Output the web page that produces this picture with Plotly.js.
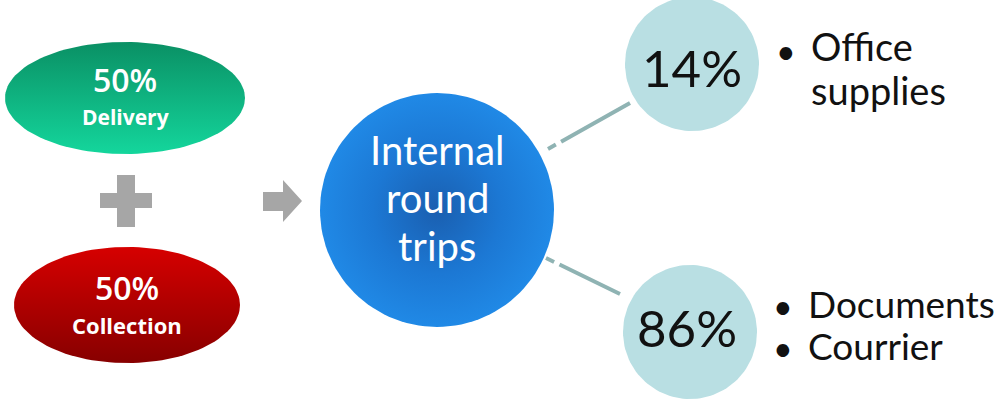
<!DOCTYPE html>
<html><head><meta charset="utf-8">
<script src="https://cdn.plot.ly/plotly-3.0.1.min.js"></script>
<style>html,body{margin:0;padding:0;background:#fff}#chart{width:1005px;height:405px}</style>
</head><body><div id="chart"></div>
<script>
// ---- data ----
const sourceShare = [50, 50];
const sourceLabels = ['Delivery', 'Collection'];
const centerLabel = ['Internal', 'round', 'trips'];
const splitShare = [14, 86];
const splitItems = [['Office supplies'], ['Documents', 'Courrier']];

// ---- geometry helpers ----
function ellipse(cx, cy, rx, ry) {
  const x = [], y = [];
  for (let i = 0; i <= 120; i++) {
    const t = 2 * Math.PI * i / 120;
    x.push(cx + rx * Math.cos(t)); y.push(cy + ry * Math.sin(t));
  }
  return {x, y};
}
function poly(pts) { return {x: pts.map(p => p[0]), y: pts.map(p => p[1])}; }

const G = {
  green: {cx: 125, cy: 98, rx: 120, ry: 56},
  red: {cx: 127, cy: 305, rx: 113, ry: 58},
  blue: {cx: 437, cy: 210, r: 117},
  top: {cx: 692, cy: 64, r: 67},
  bot: {cx: 690, cy: 332, r: 67}
};

const traces = [];
const eg = ellipse(G.green.cx, G.green.cy, G.green.rx, G.green.ry);
traces.push({type: 'scatter', mode: 'lines', x: eg.x, y: eg.y, fill: 'toself', line: {width: 0},
  fillcolor: '#0fb882',
  fillgradient: {type: 'vertical', start: G.green.cy - G.green.ry, stop: G.green.cy + G.green.ry,
    colorscale: [[0, '#0a9064'], [1, '#14d69c']]}, hoverinfo: 'skip'});
const er = ellipse(G.red.cx, G.red.cy, G.red.rx, G.red.ry);
traces.push({type: 'scatter', mode: 'lines', x: er.x, y: er.y, fill: 'toself', line: {width: 0},
  fillcolor: '#b00000',
  fillgradient: {type: 'vertical', start: G.red.cy - G.red.ry, stop: G.red.cy + G.red.ry,
    colorscale: [[0, '#d60000'], [1, '#870000']]}, hoverinfo: 'skip'});
// plus
const pl = poly([[117,175],[135,175],[135,193],[152,193],[152,208],[135,208],[135,227],[117,227],[117,208],[100,208],[100,193],[117,193],[117,175]]);
traces.push({type: 'scatter', mode: 'lines', x: pl.x, y: pl.y, fill: 'toself', fillcolor: '#a6a6a6', line: {width: 0}, hoverinfo: 'skip'});
// arrow
const ar = poly([[263,192],[283,192],[283,180],[302,201],[283,222],[283,211],[263,211],[263,192]]);
traces.push({type: 'scatter', mode: 'lines', x: ar.x, y: ar.y, fill: 'toself', fillcolor: '#a6a6a6', line: {width: 0}, hoverinfo: 'skip'});
// connectors
traces.push({type: 'scatter', mode: 'lines', x: [548, 630], y: [149, 103], line: {color: '#8fb3b3', width: 4, dash: '9px,6px,300px'}, hoverinfo: 'skip'});
traces.push({type: 'scatter', mode: 'lines', x: [546, 620], y: [258, 294], line: {color: '#8fb3b3', width: 4, dash: '9px,6px,300px'}, hoverinfo: 'skip'});
// blue circle
const eb = ellipse(G.blue.cx, G.blue.cy, G.blue.r, G.blue.r);
traces.push({type: 'scatter', mode: 'lines', x: eb.x, y: eb.y, fill: 'toself', line: {width: 0},
  fillcolor: '#1e86e3',
  fillgradient: {type: 'radial', colorscale: [[0, '#1a5fb0'], [0.55, '#1c78d4'], [1, '#2089e6']]}, hoverinfo: 'skip'});
// small circles
[G.top, G.bot].forEach(c => {
  const e = ellipse(c.cx, c.cy, c.r, c.r);
  traces.push({type: 'scatter', mode: 'lines', x: e.x, y: e.y, fill: 'toself', fillcolor: '#b9dfe3', line: {width: 0}, hoverinfo: 'skip'});
});

const ann = [];
function txt(x, y, text, size, color, family, weight, xa) {
  ann.push({x, y, xref: 'x', yref: 'y', text, showarrow: false, xanchor: xa || 'center', yanchor: 'middle',
    font: {size, color, family, weight: weight || 'normal'}});
}
const sfont = '"Open Sans", sans-serif';
txt(G.green.cx, 79, sourceShare[0] + '%', 32, '#ffffff', sfont, 600);
txt(G.green.cx, 117, sourceLabels[0], 21, '#ffffff', sfont, 700);
txt(G.red.cx, 287, sourceShare[1] + '%', 32, '#ffffff', sfont, 600);
txt(G.red.cx, 325, sourceLabels[1], 22, '#ffffff', sfont, 700);

const cfont = 'Lato, sans-serif';
[150, 198, 246].forEach((y, i) => txt(G.blue.cx, y, centerLabel[i], 40, '#ffffff', cfont));

txt(G.top.cx, 67, splitShare[0] + '%', 51, '#111111', cfont);
txt(G.bot.cx - 3, 327, splitShare[1] + '%', 51, '#111111', cfont);

const words0 = splitItems[0][0].split(' ');
txt(786, 50, '•', 34, '#111111', cfont);
txt(809, 46, words0[0], 38, '#111111', cfont, 'normal', 'left');
txt(809, 90, words0[1], 38, '#111111', cfont, 'normal', 'left');
txt(783, 305, '•', 34, '#111111', cfont);
txt(806, 303, splitItems[1][0], 37, '#111111', cfont, 'normal', 'left');
txt(783, 347, '•', 34, '#111111', cfont);
txt(806, 345, splitItems[1][1], 37, '#111111', cfont, 'normal', 'left');

const layout = {
  width: 1005, height: 405, autosize: false,
  margin: {l: 0, r: 0, t: 0, b: 0, pad: 0},
  paper_bgcolor: '#ffffff', plot_bgcolor: '#ffffff', showlegend: false,
  xaxis: {range: [0, 1005], visible: false, fixedrange: true},
  yaxis: {range: [405, 0], visible: false, fixedrange: true},
  annotations: ann
};
Plotly.newPlot('chart', traces, layout, {displayModeBar: false, staticPlot: true});
</script></body></html>
